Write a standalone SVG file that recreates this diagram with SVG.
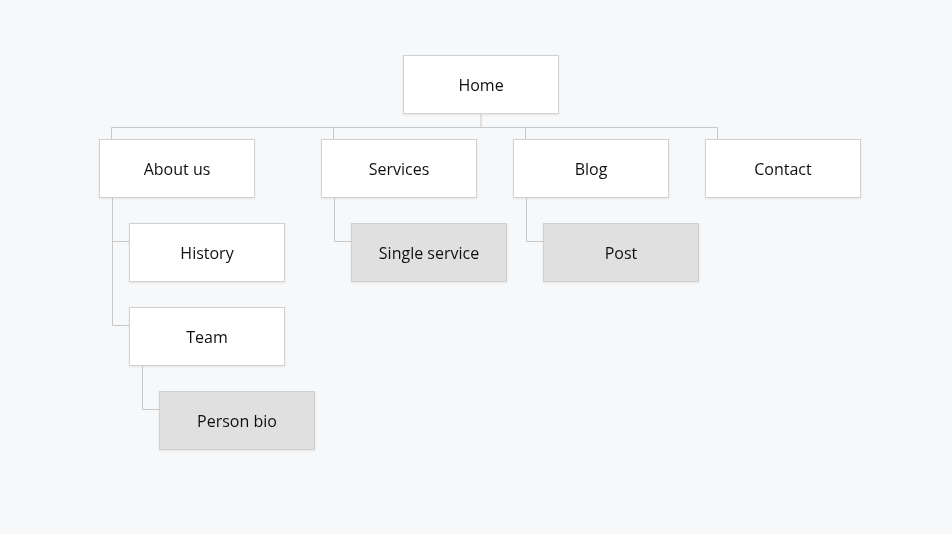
<svg xmlns="http://www.w3.org/2000/svg" width="952" height="534" viewBox="0 0 952 534">
<style>
.n{fill:#ffffff;stroke:#d2d2d2;stroke-width:1}
.g{fill:#e0e0e0;stroke:#cfcfcf;stroke-width:1}
.t{font-family:"Open Sans","Noto Sans",sans-serif;font-size:16px;fill:#111111;text-anchor:middle}
.c{fill:none;stroke:#c8c8c8;stroke-width:1}
</style>
<defs>
<filter id="sh" x="-10%" y="-10%" width="120%" height="130%">
<feDropShadow dx="0" dy="1" stdDeviation="1" flood-color="#000000" flood-opacity="0.08"/>
</filter>
</defs>
<rect width="952" height="534" fill="#f7f8fa"/>
<g id="connectors">
<path class="c" d="M481 114V127.5M111.5 127.5H717.5M111.5 127.5V139.5M333.5 127.5V139.5M525.5 127.5V139.5M717.5 127.5V139.5"/>
<path class="c" d="M112.5 198V325.5H129.5M112.5 241.5H129.5"/>
<path class="c" d="M142.5 366V409.5H159.5"/>
<path class="c" d="M334.5 198V241.5H351.5"/>
<path class="c" d="M526.5 198V241.5H543.5"/>
</g>
<g id="home" filter="url(#sh)"><rect class="n" x="403.5" y="55.5" width="155" height="58"/><text class="t" x="481" y="91">Home</text></g>
<g id="about" filter="url(#sh)"><rect class="n" x="99.5" y="139.5" width="155" height="58"/><text class="t" x="177" y="175">About us</text></g>
<g id="services" filter="url(#sh)"><rect class="n" x="321.5" y="139.5" width="155" height="58"/><text class="t" x="399" y="175">Services</text></g>
<g id="blog" filter="url(#sh)"><rect class="n" x="513.5" y="139.5" width="155" height="58"/><text class="t" x="591" y="175">Blog</text></g>
<g id="contact" filter="url(#sh)"><rect class="n" x="705.5" y="139.5" width="155" height="58"/><text class="t" x="783" y="175">Contact</text></g>
<g id="history" filter="url(#sh)"><rect class="n" x="129.5" y="223.5" width="155" height="58"/><text class="t" x="207" y="259">History</text></g>
<g id="team" filter="url(#sh)"><rect class="n" x="129.5" y="307.5" width="155" height="58"/><text class="t" x="207" y="343">Team</text></g>
<g id="person-bio" filter="url(#sh)"><rect class="g" x="159.5" y="391.5" width="155" height="58"/><text class="t" x="237" y="427">Person bio</text></g>
<g id="single-service" filter="url(#sh)"><rect class="g" x="351.5" y="223.5" width="155" height="58"/><text class="t" x="429" y="259">Single service</text></g>
<g id="post" filter="url(#sh)"><rect class="g" x="543.5" y="223.5" width="155" height="58"/><text class="t" x="621" y="259">Post</text></g>
</svg>
